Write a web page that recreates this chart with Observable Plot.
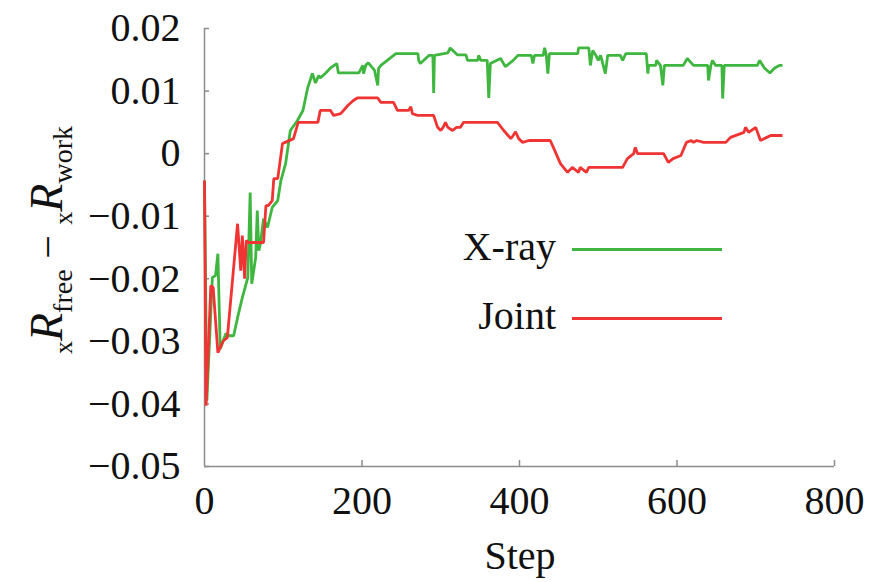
<!DOCTYPE html>
<html>
<head>
<meta charset="utf-8">
<script src="https://cdn.jsdelivr.net/npm/d3@7"></script>
<script src="https://cdn.jsdelivr.net/npm/@observablehq/plot@0.6"></script>
<style>
  html, body { margin: 0; padding: 0; background: #fff; }
  #wrap { position: relative; width: 873px; height: 582px; font-family: "Liberation Serif", serif; color: #111; }
  #wrap svg, #wrap svg text { font-family: "Liberation Serif", serif !important; }
  .leg { position: absolute; font-size: 40px; line-height: 1; }
  .legline { position: absolute; height: 3px; }
</style>
</head>
<body>
<div id="wrap"></div>
<script>
// ---- data ----
const seriesNames = ["X-ray", "Joint"];
const seriesColors = ["#3fb63f", "#f03434"];

const xraySteps = [0,3,10,14,17,19,20,27,32,37,42,48,55,58,60,65,67,69,71,75,80,86,93,97,103,109,118,125,131,137,141,145,147,154,160,168,170,196,201,202,205,208,216,220,221,224,243,271,272,274,285,290,291,292,309,312,321,332,334,347,348,351,359,361,363,376,382,392,398,415,417,419,430,432,434,436,438,474,475,488,490,493,497,500,503,509,512,528,531,535,561,563,564,573,574,579,582,584,608,613,621,639,640,643,645,649,657,658,660,702,705,711,718,724,730,734];
const xrayValues = [-0.0043,-0.0395,-0.0198,-0.0195,-0.0160,-0.0262,-0.0312,-0.0288,-0.0291,-0.0291,-0.0262,-0.0230,-0.0198,-0.0062,-0.0208,-0.0166,-0.0091,-0.0155,-0.0144,-0.0104,-0.0118,-0.0086,-0.0075,-0.0043,-0.0016,0.0037,0.0053,0.0069,0.0105,0.0128,0.0113,0.0125,0.0121,0.0129,0.0137,0.0144,0.0129,0.0129,0.0141,0.0128,0.0142,0.0145,0.0133,0.0109,0.0136,0.0141,0.0160,0.0160,0.0149,0.0144,0.0157,0.0157,0.0097,0.0157,0.0161,0.0169,0.0158,0.0158,0.0149,0.0149,0.0157,0.0149,0.0149,0.0089,0.0144,0.0152,0.0139,0.0149,0.0157,0.0157,0.0144,0.0157,0.0157,0.0169,0.0157,0.0128,0.0160,0.0160,0.0169,0.0169,0.0141,0.0165,0.0157,0.0149,0.0157,0.0128,0.0157,0.0157,0.0149,0.0160,0.0160,0.0128,0.0141,0.0141,0.0149,0.0141,0.0109,0.0141,0.0141,0.0152,0.0141,0.0141,0.0117,0.0141,0.0149,0.0141,0.0141,0.0088,0.0141,0.0141,0.0149,0.0137,0.0129,0.0137,0.0141,0.0141];

const jointSteps = [0,2,8,11,17,24,29,42,46,48,51,53,56,75,78,81,86,88,93,99,113,119,144,147,160,164,173,182,189,194,220,224,240,245,259,262,264,271,291,296,300,303,306,309,315,320,325,329,372,380,389,392,395,399,404,412,439,443,452,461,467,475,477,485,488,531,537,545,547,550,583,589,595,605,612,618,621,625,634,662,668,685,687,691,700,706,714,719,734];
const jointValues = [-0.0043,-0.0403,-0.0211,-0.0214,-0.0318,-0.0299,-0.0294,-0.0112,-0.0187,-0.0131,-0.0200,-0.0139,-0.0142,-0.0142,-0.0083,-0.0083,-0.0075,-0.0040,-0.0040,0.0016,0.0024,0.0050,0.0050,0.0069,0.0069,0.0061,0.0064,0.0077,0.0085,0.0089,0.0089,0.0082,0.0082,0.0069,0.0069,0.0075,0.0064,0.0061,0.0061,0.0042,0.0037,0.0042,0.0050,0.0042,0.0037,0.0042,0.0042,0.0050,0.0050,0.0037,0.0024,0.0029,0.0035,0.0024,0.0018,0.0021,0.0021,0.0010,-0.0016,-0.0030,-0.0022,-0.0030,-0.0022,-0.0030,-0.0022,-0.0022,-0.0008,0.0000,0.0010,0.0000,0.0000,-0.0014,-0.0008,-0.0003,0.0018,0.0021,0.0018,0.0021,0.0018,0.0018,0.0026,0.0034,0.0042,0.0034,0.0042,0.0021,0.0026,0.0029,0.0029];

const xTickValues = [200, 400, 600, 800];
const xLabelValues = [0, 200, 400, 600, 800];
const yTickValues = [0.02, 0.01, 0, -0.01, -0.02, -0.03, -0.04, -0.05];
const xLabel = "Step";

// ---- build table ----
const rows = [
  ...xraySteps.map((s, i) => ({step: s, value: xrayValues[i], series: seriesNames[0]})),
  ...jointSteps.map((s, i) => ({step: s, value: jointValues[i], series: seriesNames[1]}))
];

const fmtY = d => d === 0 ? "0" : (d < 0 ? "\u2212" : "") + Math.abs(d).toFixed(2);
const axisColor = "#8c8c8c";
const serif = "Liberation Serif";

const chart = Plot.plot({
  width: 873,
  height: 582,
  marginLeft: 204,
  marginRight: 39,
  marginTop: 28,
  marginBottom: 116,
  style: {fontFamily: serif, fontSize: "40px", background: "transparent", color: "#111", overflow: "visible"},
  x: {domain: [0, 800]},
  y: {domain: [-0.05, 0.02]},
  color: {domain: seriesNames, range: seriesColors},
  marks: [
    Plot.axisX(xTickValues, {tickSize: -6, fill: "none", stroke: axisColor, strokeWidth: 1.5, label: null}),
    Plot.axisX(xLabelValues, {tickSize: 0, tickPadding: 19, tickFormat: d => String(d), fontSize: 40, fill: "#111", label: null}),
    Plot.axisY(yTickValues, {tickSize: -5, fill: "none", stroke: axisColor, strokeWidth: 1.5, label: null}),
    Plot.axisY(yTickValues, {tickSize: 0, tickPadding: 24, tickFormat: fmtY, fontSize: 40, fill: "#111", label: null}),
    Plot.ruleX([0], {stroke: axisColor, strokeWidth: 1.5}),
    Plot.ruleY([-0.05], {stroke: axisColor, strokeWidth: 1.5}),
    Plot.line(rows, {x: "step", y: "value", z: "series", stroke: "series", strokeWidth: 2.8, strokeLinejoin: "miter", strokeLinecap: "butt"})
  ]
});
chart.setAttribute("font-family", serif);

const wrap = document.getElementById("wrap");
wrap.appendChild(chart);

// axis labels
const svg = d3.select(chart);
svg.append("text")
  .attr("x", 520).attr("y", 569)
  .attr("text-anchor", "middle")
  .attr("font-family", serif)
  .attr("font-size", 40)
  .attr("fill", "#111")
  .text(xLabel);

const yl = svg.append("text")
  .attr("transform", "translate(62,240) rotate(-90)")
  .attr("text-anchor", "middle")
  .attr("font-family", serif)
  .attr("fill", "#111");
const parts = [
  {t: "x", size: 26, dy: 10, italic: false},
  {t: "R", size: 46, dy: -10, italic: true},
  {t: "free", size: 28, dy: 10, italic: false},
  {t: " \u2212 ", size: 42, dy: -10, italic: false},
  {t: "x", size: 26, dy: 10, italic: false},
  {t: "R", size: 46, dy: -10, italic: true},
  {t: "work", size: 28, dy: 10, italic: false}
];
parts.forEach(p => {
  yl.append("tspan")
    .attr("dy", p.dy)
    .attr("font-size", p.size)
    .attr("font-style", p.italic ? "italic" : "normal")
    .text(p.t);
});

// legend
const legendRows = [
  {name: seriesNames[0], color: seriesColors[0], top: 249},
  {name: seriesNames[1], color: seriesColors[1], top: 318}
];
legendRows.forEach(r => {
  const t = document.createElement("div");
  t.className = "leg";
  t.textContent = r.name;
  t.style.right = (873 - 556) + "px";
  t.style.top = (r.top - 22) + "px";
  wrap.appendChild(t);
  const l = document.createElement("div");
  l.className = "legline";
  l.style.left = "572px";
  l.style.width = "150px";
  l.style.top = (r.top - 1) + "px";
  l.style.background = r.color;
  wrap.appendChild(l);
});
</script>
</body>
</html>
